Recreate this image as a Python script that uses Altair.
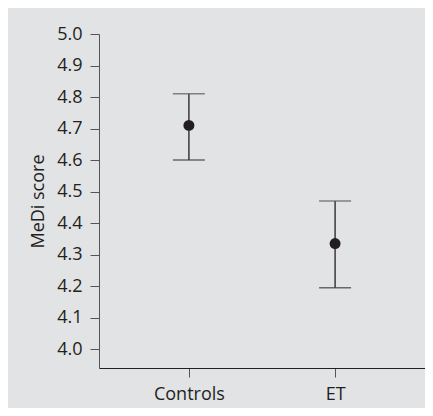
import altair as alt
import pandas as pd

groups = ["Controls", "ET"]
means = [4.71, 4.335]
lower = [4.60, 4.195]
upper = [4.81, 4.47]
yticks = [4.0, 4.1, 4.2, 4.3, 4.4, 4.5, 4.6, 4.7, 4.8, 4.9, 5.0]

df = pd.DataFrame({"group": groups, "mean": means, "lo": lower, "hi": upper})

FONT = "Open Sans"
DARK = "#231f20"
FS = 18

xscale = alt.Scale(type="point", padding=0.615)
yscale = alt.Scale(domain=[3.94, 5.0], nice=False, zero=False)

xaxis = alt.Axis(labelAngle=0, tickSize=9, domainColor=DARK, labelPadding=8)
yaxis = alt.Axis(values=yticks, format=".1f", labelOverlap=False,
                 titlePadding=9, tickSize=9, labelPadding=8)

x = alt.X("group:N", sort=groups, title=None, scale=xscale, axis=xaxis)


def yenc(field):
    return alt.Y(field, type="quantitative", scale=yscale, title="MeDi score", axis=yaxis)


base = alt.Chart(df)

stem = base.mark_rule(color="#3a3a3a", strokeWidth=1.5).encode(
    x=x, y=yenc("lo"), y2="hi:Q")
cap_hi = base.mark_tick(color="#555555", thickness=1.5, size=32, orient="horizontal").encode(
    x=x, y=yenc("hi"))
cap_lo = base.mark_tick(color="#333333", thickness=1.5, size=32, orient="horizontal").encode(
    x=x, y=yenc("lo"))
dots = base.mark_point(filled=True, color=DARK, size=120, opacity=1).encode(
    x=x, y=yenc("mean"))

chart = alt.layer(stem, cap_hi, cap_lo, dots).properties(
    width=326, height=334,
    autosize=alt.AutoSizeParams(type="none"),
    padding={"left": 91, "top": 26, "right": 0, "bottom": 40},
    background="#e2e3e5",
).configure_view(stroke=None, fill="#e2e3e5").configure_axis(
    labelFont=FONT, labelFontSize=FS, labelColor=DARK,
    titleFont=FONT, titleFontSize=FS, titleFontWeight="normal", titleColor=DARK,
    tickColor="#555555", domainColor="#555555", grid=False,
)

chart.save("out.html", embed_options={"renderer": "svg", "actions": False})
